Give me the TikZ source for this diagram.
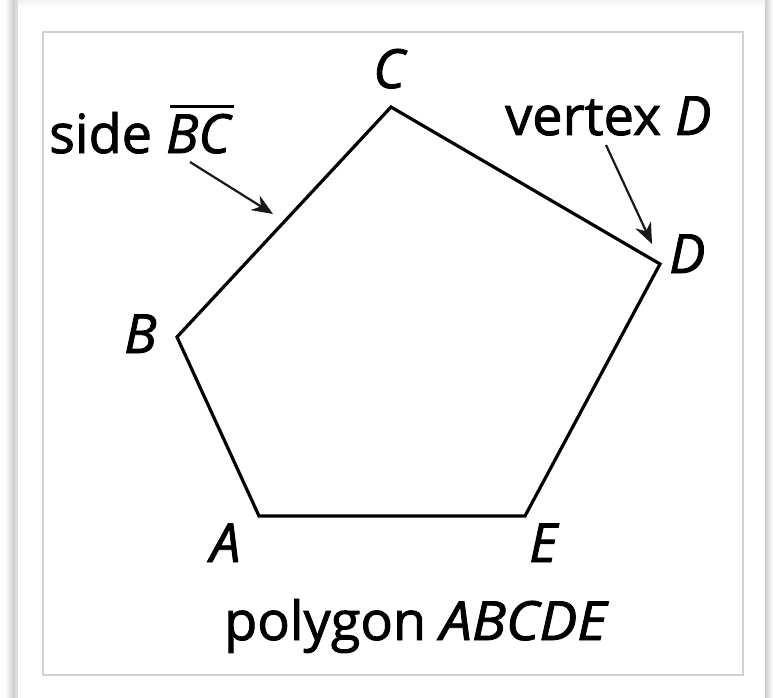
\documentclass[tikz,border=0pt]{standalone}
\usepackage{fontspec}
\setmainfont{Open Sans}[FakeBold=1.6]
\newcommand\myovl[1]{\setbox0\hbox{#1}\rlap{\hspace{4pt}\raisebox{45pt}{\rule{\wd0}{2.8pt}}}\box0}
\usetikzlibrary{arrows.meta}
\tikzset{
  lbl/.style={anchor=base west, inner sep=0pt, font=\fontsize{54}{60}\selectfont},
  edge/.style={line width=3.2pt, line join=miter},
  pointer/.style={line width=2.2pt, black!90, -{Stealth[length=21pt,width=17pt]}},
}
\begin{document}
\begin{tikzpicture}[x=1pt,y=-1pt]
\useasboundingbox (0,0) rectangle (773,698);
\fill[white] (0,0) rectangle (773,698);
% card shadow
\shade[left color=white, right color=black!22] (5,0) rectangle (15,698);
\fill[black!14] (15,0) rectangle (18,698);
\shade[left color=black!20, right color=white] (765,0) rectangle (773,698);
\shade[top color=black!5, bottom color=white] (18,0) rectangle (765,8);
% inner frame
\draw[black!18, line width=1.2pt, fill=white] (43,32) rectangle (743,675);
% polygon
\coordinate (A) at (259,516);
\coordinate (B) at (177,337);
\coordinate (C) at (391,107);
\coordinate (D) at (660,264);
\coordinate (E) at (525,516);
\draw[edge] (A) -- (B) -- (C) -- (D) -- (E) -- cycle;
% labels
\node[lbl] (lC) at (373,88) {\itshape C};
\node[lbl] (lD) at (669,273) {\itshape D};
\node[lbl] (lB) at (124,353) {\itshape B};
\node[lbl] (lA) at (210,562) {\itshape A};
\node[lbl] (lE) at (529,562) {\itshape E};
\node[lbl] (side) at (49,153) {side \myovl{\itshape BC}};
\node[lbl] (vert) at (505,135) {vertex \textit{D}};
\node[lbl] (poly) at (224,640) {polygon \textit{\scalebox{1.05}[1]{ABCDE}}};
% pointers
\coordinate (s1) at (190,162);
\coordinate (s2) at (273,214);
\coordinate (v1) at (606,145);
\coordinate (v2) at (652,244);
\draw[pointer] (s1) -- (s2);
\draw[pointer] (v1) -- (v2);
\end{tikzpicture}
\end{document}
